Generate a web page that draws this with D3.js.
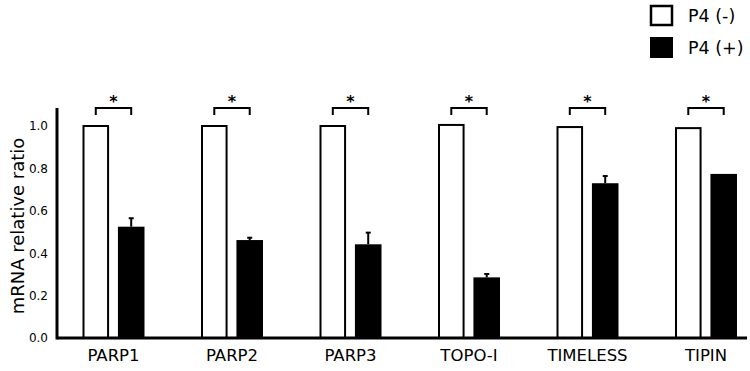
<!DOCTYPE html>
<html>
<head>
<meta charset="utf-8">
<script src="https://cdn.jsdelivr.net/npm/d3@7"></script>
<style>
  body { margin: 0; background: #fff; }
  svg { display: block; font-family: "DejaVu Sans", Verdana, sans-serif; }
</style>
</head>
<body>
<svg class="chart" width="750" height="371"></svg>
<script>
const genes = ['PARP1', 'PARP2', 'PARP3', 'TOPO-I', 'TIMELESS', 'TIPIN'];
const p4Neg = [1.0, 1.0, 1.0, 1.005, 0.995, 0.99];
const p4Pos = [0.525, 0.462, 0.442, 0.286, 0.73, 0.774];
const p4PosErr = [0.04, 0.011, 0.055, 0.016, 0.034, 0];
const yTicks = [0, 0.2, 0.4, 0.6, 0.8, 1.0];
const legendItems = ['P4 (-)', 'P4 (+)'];

const svg = d3.select('.chart');
const y = d3.scaleLinear().domain([0, 1]).range([338, 126]);
const x = d3.scaleBand().domain(genes).range([54.25, 765.25]);
const half = x.bandwidth() / 2;
const sub = d3.scaleBand().domain(['neg', 'pos']).range([half - 31, half + 31]).paddingInner(0.25);
const rows = genes.map((g, i) => ({ g, neg: p4Neg[i], pos: p4Pos[i], err: p4PosErr[i] }));

// bars
const grp = svg.append('g').selectAll('g').data(rows).enter().append('g')
  .attr('transform', (d) => `translate(${x(d.g)},0)`);
grp.append('rect')
  .attr('x', sub('neg') + 1).attr('width', sub.bandwidth() - 2)
  .attr('y', (d) => y(d.neg)).attr('height', (d) => y(0) - y(d.neg))
  .attr('fill', '#fff').attr('stroke', '#000').attr('stroke-width', 2);
grp.append('rect')
  .attr('x', sub('pos')).attr('width', sub.bandwidth())
  .attr('y', (d) => y(d.pos)).attr('height', (d) => y(0) - y(d.pos))
  .attr('fill', '#000');

// error bars (upper only)
const eb = grp.filter((d) => d.err > 0);
const cx = sub('pos') + sub.bandwidth() / 2;
eb.append('line')
  .attr('x1', cx).attr('x2', cx)
  .attr('y1', (d) => y(d.pos)).attr('y2', (d) => y(d.pos + d.err))
  .attr('stroke', '#000').attr('stroke-width', 2);
eb.append('line')
  .attr('x1', cx - 2.5).attr('x2', cx + 2.5)
  .attr('y1', (d) => y(d.pos + d.err)).attr('y2', (d) => y(d.pos + d.err))
  .attr('stroke', '#000').attr('stroke-width', 2);

// significance brackets
const nx = sub('neg') + sub.bandwidth() / 2;
const by = y(1) - 18;
grp.append('path')
  .attr('d', `M${nx},${by + 7}V${by}H${cx}V${by + 7}`)
  .attr('fill', 'none').attr('stroke', '#000').attr('stroke-width', 2);
grp.append('text')
  .attr('x', (nx + cx) / 2).attr('y', by - 1)
  .attr('text-anchor', 'middle').attr('font-size', 16).attr('font-weight', 'bold').attr('fill', '#000')
  .text('*');

// axes
const yAxis = svg.append('g').attr('transform', 'translate(57,0)')
  .call(d3.axisLeft(y).tickValues(yTicks).tickFormat(d3.format('.1f')).tickSize(0).tickPadding(9));
yAxis.select('.domain').remove();
yAxis.selectAll('text').attr('font-size', 12).attr('font-family', '"DejaVu Sans", sans-serif').attr('fill', '#000');
svg.append('line').attr('x1', 57).attr('x2', 57).attr('y1', y(1.085)).attr('y2', y(0) + 1.5)
  .attr('stroke', '#000').attr('stroke-width', 3);

const xAxis = svg.append('g').attr('transform', `translate(0,${y(0)})`)
  .call(d3.axisBottom(x).tickSize(0).tickPadding(11));
xAxis.select('.domain').remove();
xAxis.selectAll('text').attr('font-size', 16.5).attr('font-family', '"DejaVu Sans", sans-serif').attr('fill', '#000');
svg.append('line').attr('x1', 57).attr('x2', 747).attr('y1', y(0)).attr('y2', y(0))
  .attr('stroke', '#000').attr('stroke-width', 3);

svg.append('text')
  .attr('transform', `translate(24,${(y(0) + y(1.085)) / 2 + 3}) rotate(-90)`)
  .attr('text-anchor', 'middle').attr('font-size', 18)
  .text('mRNA relative ratio');

// legend
const leg = svg.append('g').selectAll('g').data(legendItems).enter().append('g')
  .attr('transform', (d, i) => `translate(650,${5 + i * 32})`);
leg.append('rect')
  .attr('x', (d, i) => (i ? 0 : 1)).attr('y', (d, i) => (i ? 0 : 1))
  .attr('width', (d, i) => (i ? 23 : 21)).attr('height', (d, i) => (i ? 21 : 19))
  .attr('fill', (d, i) => (i ? '#000' : '#fff')).attr('stroke', '#000').attr('stroke-width', (d, i) => (i ? 0 : 2.5));
leg.append('text').attr('x', 38).attr('y', 17).attr('font-size', 17.5).text((d) => d);
</script>
</body>
</html>
